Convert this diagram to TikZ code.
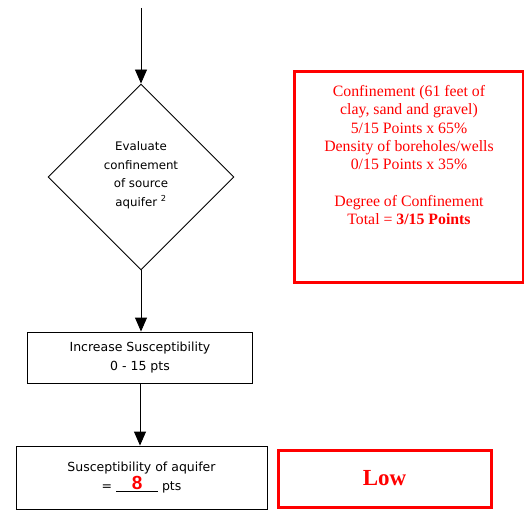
\documentclass[tikz,border=0pt]{standalone}
\usepackage{fontspec}
\setmainfont{Liberation Serif}
\newfontfamily\comic{DejaVu Sans}
\newfontfamily\arial{Liberation Sans}
\usetikzlibrary{arrows.meta,shapes.geometric}
\definecolor{rd}{RGB}{255,0,0}
\tikzset{
  flow/.style={draw=black,line width=0.9pt,-{Triangle[width=12pt,length=14pt]}},
  blackbox/.style={draw=black,line width=0.9pt,fill=white,align=center,font=\comic\fontsize{12.5}{18.5}\selectfont},
  redbox/.style={draw=rd,line width=3pt,text=rd,align=center},
}
\begin{document}
\begin{tikzpicture}[x=1pt,y=-1pt]
\useasboundingbox (0,0) rectangle (524,510);
% diamond
\coordinate (top) at (141,8);
\node[draw=black,line width=0.9pt,diamond,minimum width=186pt,minimum height=186pt,inner sep=0pt] (dia) at (141,177) {};
\node[align=center,font=\comic\fontsize{11.8}{18.5}\selectfont] (diatxt) at (141,175) {Evaluate\\confinement\\of source\\aquifer \textsuperscript{2}};
\node[blackbox,minimum width=225pt,minimum height=51pt,inner sep=0pt] (inc) at (140,357.5) {Increase Susceptibility\\0 - 15 pts};
\node[blackbox,minimum width=251pt,minimum height=63pt,inner sep=0pt] (sus) at (141.5,477.5) {Susceptibility of aquifer\\= \underline{\makebox[42pt]{\textcolor{rd}{\arial\bfseries\fontsize{19}{19}\selectfont\raisebox{1pt}{8}}}} pts};
\node[redbox,minimum width=229pt,minimum height=211pt,inner sep=0pt] (conf) at (408.5,177.5) {};
\node[text=rd,align=center,font=\fontsize{15.8}{18.3}\selectfont,anchor=north] (conftxt) at (409,82) {Confinement (61 feet of\\clay, sand and gravel)\\5/15 Points x 65\%\\Density of boreholes/wells\\0/15 Points x 35\%\\[18.3pt]Degree of Confinement\\Total = \textbf{3/15 Points}};
\node[redbox,minimum width=213pt,minimum height=57pt,inner sep=0pt,font=\bfseries\fontsize{23}{23}\selectfont] (low) at (384.5,478.5) {Low};
\draw[flow] (top) -- (dia.north);
\draw[flow] (dia.south) -- (dia.south |- inc.north);
\draw[flow] (inc.south) -- (inc.south |- sus.north);
\end{tikzpicture}
\end{document}
